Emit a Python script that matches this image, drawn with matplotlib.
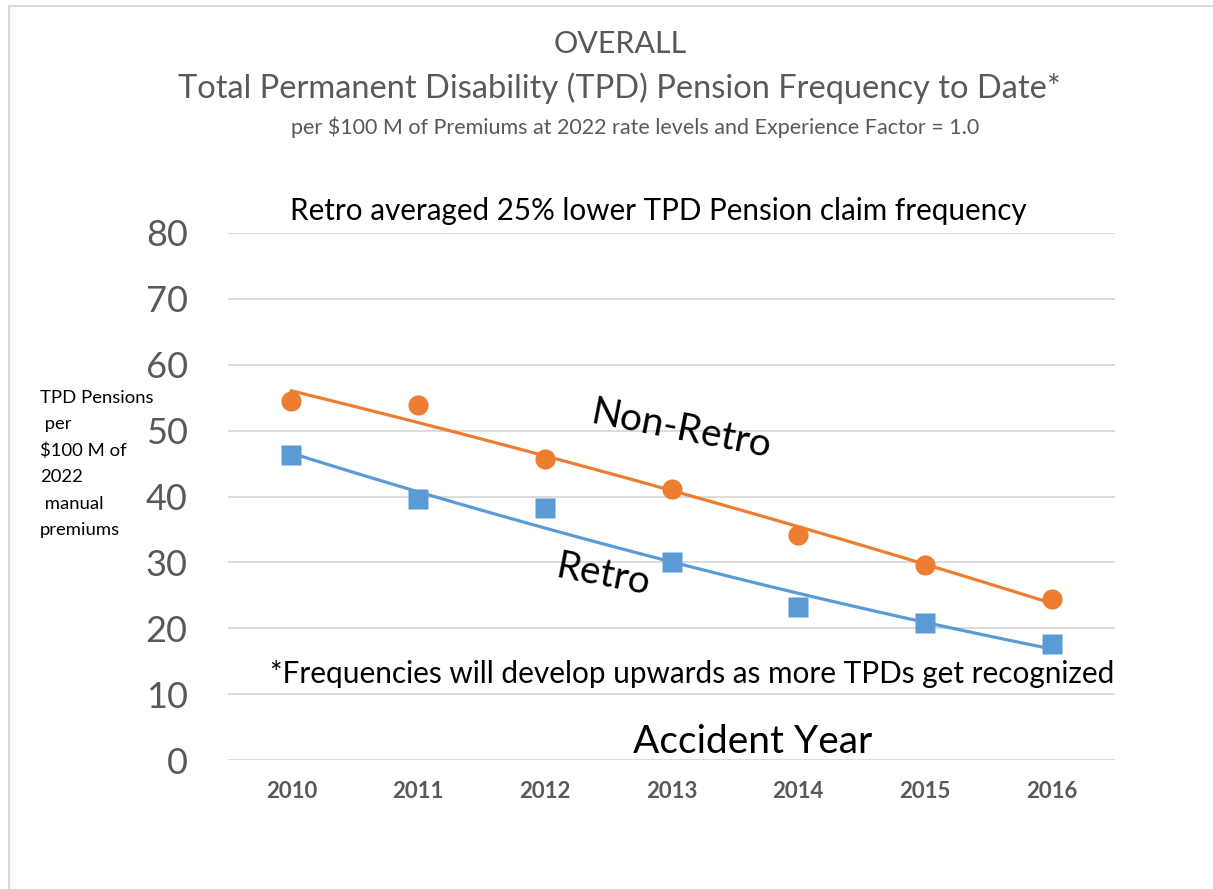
import numpy as np
from matplotlib import pyplot as plt
from matplotlib.lines import Line2D

years = ['2010', '2011', '2012', '2013', '2014', '2015', '2016']
non_retro = [54.5, 53.9, 45.7, 41.1, 34.1, 29.6, 24.4]
retro = [46.3, 39.6, 38.2, 30.0, 23.2, 20.8, 17.6]
y_ticks = [0, 10, 20, 30, 40, 50, 60, 70, 80]
ylabel_lines = ['TPD Pensions', ' per', '$100 M of', '2022', ' manual', 'premiums']

orange = '#ED7D31'
blue = '#5B9BD5'
grey = '#595959'

plt.rcParams['font.family'] = ['Lato', 'DejaVu Sans']

fig = plt.figure(figsize=(12.13, 8.89), dpi=100)
W, H = 1213, 889
ax = fig.add_axes([228 / W, 1 - 760 / H, (1115 - 228) / W, (760 - 233) / H])

x = np.arange(len(years))

# trendlines (2nd order poly, as in the source chart)
xs = np.linspace(0, len(years) - 1, 100)
ax.plot(xs, np.polyval(np.polyfit(x, non_retro, 2), xs), color=orange, lw=2.3, zorder=2)
ax.plot(xs, np.polyval(np.polyfit(x, retro, 2), xs), color=blue, lw=2.3, zorder=2)

ax.plot(x, non_retro, 'o', color=orange, ms=14.5, mec='none', zorder=3)
ax.plot(x, retro, 's', color=blue, ms=14, mec='none', zorder=3)

ax.set_xlim(-0.5, len(years) - 0.5)
ax.set_ylim(0, 80)
ax.set_yticks(y_ticks)
ax.set_xticks(x)
ax.set_xticklabels(years, fontsize=16, fontweight='bold', color=grey)
ax.tick_params(axis='x', length=0, pad=15)
ax.tick_params(axis='y', length=0, pad=29, labelsize=26, labelcolor=grey)
ax.grid(axis='y', color='#D9D9D9', lw=1.3)
ax.set_axisbelow(True)
for s in ax.spines.values():
    s.set_visible(False)

# figure text
fig.text(620 / W, 1 - 44 / H, 'OVERALL', ha='center', va='center', fontsize=22, color=grey)
fig.text(619 / W, 1 - 88 / H, 'Total Permanent Disability (TPD) Pension Frequency to Date*',
         ha='center', va='center', fontsize=23.5, color=grey)
fig.text(635 / W, 1 - 127 / H, 'per $100 M of Premiums at 2022 rate levels and Experience Factor = 1.0',
         ha='center', va='center', fontsize=15.5, color=grey)
fig.text(658 / W, 1 - 211 / H, 'Retro averaged 25% lower TPD Pension claim frequency',
         ha='center', va='center', fontsize=21.3, color='black')
fig.text(681 / W, 1 - 430 / H, 'Non-Retro', ha='center', va='center', fontsize=28,
         rotation=-11, color='black')
fig.text(603 / W, 1 - 575 / H, 'Retro', ha='center', va='center', fontsize=28,
         rotation=-11, color='black')
fig.text(692 / W, 1 - 674 / H, '*Frequencies will develop upwards as more TPDs get recognized',
         ha='center', va='center', fontsize=21.4, color='black')
fig.text(753 / W, 1 - 742 / H, 'Accident Year', ha='center', va='center', fontsize=28, color='black')

# y label, one text per line like the text box in the source
for i, line in enumerate(ylabel_lines):
    fig.text(40 / W, 1 - (398 + 26.4 * i) / H, line, ha='left', va='center',
             fontsize=13.3, color='black')

# chart border
fig.add_artist(Line2D([9 / W, 1], [1 - 6 / H, 1 - 6 / H], color='#D9D9D9', lw=1.5))
fig.add_artist(Line2D([9 / W, 9 / W], [0, 1 - 6 / H], color='#D9D9D9', lw=1.5))

fig.savefig('out.png', dpi=100)
